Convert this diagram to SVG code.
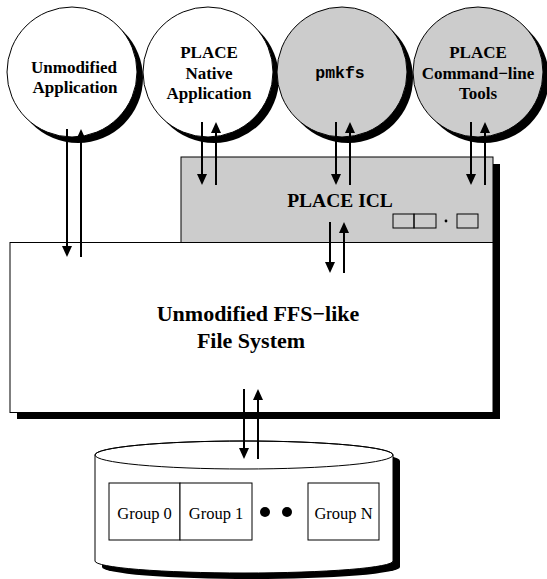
<svg xmlns="http://www.w3.org/2000/svg" width="547" height="579" viewBox="0 0 547 579">
<style>
.bg{fill:#ffffff}
.node{stroke:#000;stroke-width:1}
.white{fill:#ffffff}
.gray{fill:#cccccc}
.shadow{fill:#000}
.lbl{font-family:"Liberation Serif","Times New Roman",serif;font-weight:bold;font-size:17px;text-anchor:middle;fill:#000}
.mono{font-family:"Liberation Mono","Courier New",monospace;font-weight:bold;font-size:16.5px;text-anchor:middle;fill:#000}
.big{font-family:"Liberation Serif","Times New Roman",serif;font-weight:bold;font-size:22px;text-anchor:middle;fill:#000}
.icl{font-family:"Liberation Serif","Times New Roman",serif;font-weight:bold;font-size:19.5px;text-anchor:middle;fill:#000}
.grp{font-family:"Liberation Serif","Times New Roman",serif;font-size:16.5px;text-anchor:middle;fill:#000}
.conn line{stroke:#000;stroke-width:2}
</style>
<defs>
<marker id="ah" markerUnits="userSpaceOnUse" viewBox="0 0 11 10" markerWidth="11" markerHeight="10" refX="1" refY="5" orient="auto">
<path d="M0,0 L11,5 L0,10 z" fill="#000"/>
</marker>
</defs>
<rect class="bg" x="0" y="0" width="547" height="579"/>

<g id="unmodified-app">
<circle class="shadow" cx="78" cy="78" r="65"/>
<circle class="node white" cx="72" cy="72" r="65"/>
<text class="lbl" x="74" y="73">Unmodified</text>
<text class="lbl" x="75" y="93">Application</text>
</g>
<g id="native-app">
<circle class="shadow" cx="214" cy="78" r="65"/>
<circle class="node white" cx="208" cy="72" r="65"/>
<text class="lbl" x="209" y="58">PLACE</text>
<text class="lbl" x="209" y="79">Native</text>
<text class="lbl" x="209" y="99">Application</text>
</g>
<g id="pmkfs">
<circle class="shadow" cx="348" cy="78" r="65"/>
<circle class="node gray" cx="342" cy="72" r="65"/>
<text class="mono" x="340" y="78">pmkfs</text>
</g>
<g id="cmdline-tools">
<circle class="shadow" cx="484" cy="78" r="65"/>
<circle class="node gray" cx="478" cy="72" r="65"/>
<text class="lbl" x="478" y="58">PLACE</text>
<text class="lbl" x="478" y="79">Command−line</text>
<text class="lbl" x="478" y="99">Tools</text>
</g>

<g id="place-icl">
<rect class="shadow" x="188" y="164" width="312" height="86"/>
<rect class="node gray" x="181" y="157" width="312" height="86"/>
<text class="icl" x="340" y="207">PLACE ICL</text>
<rect class="node" fill="none" x="393" y="214" width="21" height="14"/>
<rect class="node" fill="none" x="414" y="214" width="22" height="14"/>
<circle cx="446" cy="221" r="1.4" fill="#000"/>
<rect class="node" fill="none" x="457" y="214" width="21" height="14"/>
</g>

<g id="ffs">
<rect class="shadow" x="17" y="249" width="483" height="170"/>
<rect class="node white" x="10" y="242.5" width="483" height="170"/>
<text class="big" x="258" y="321">Unmodified FFS−like</text>
<text class="big" x="251" y="348">File System</text>
</g>

<g id="disk">
<path class="shadow" d="M102,461 A149,14 0 0 1 400,461 L400,567 A149,12 0 0 1 102,567 Z"/>
<path class="node white" d="M95,455 A149,14 0 0 1 393,455 L393,561 A149,12 0 0 1 95,561 Z"/>
<ellipse class="node" fill="none" cx="244" cy="455" rx="149" ry="14"/>
<rect class="node white" x="109" y="483" width="71" height="57"/>
<text class="grp" x="144.5" y="519">Group 0</text>
<rect class="node white" x="180" y="483" width="72" height="57"/>
<text class="grp" x="216" y="519">Group 1</text>
<circle cx="265" cy="512" r="5" fill="#000"/>
<circle cx="287" cy="512" r="5" fill="#000"/>
<rect class="node white" x="308" y="483" width="71" height="57"/>
<text class="grp" x="343.5" y="519">Group N</text>
</g>

<g id="connectors" class="conn">
<line x1="67" y1="129" x2="67" y2="247" marker-end="url(#ah)"/>
<line x1="81" y1="257" x2="81" y2="139" marker-end="url(#ah)"/>
<line x1="202" y1="122" x2="202" y2="175" marker-end="url(#ah)"/>
<line x1="216" y1="185" x2="216" y2="132" marker-end="url(#ah)"/>
<line x1="336" y1="122" x2="336" y2="175" marker-end="url(#ah)"/>
<line x1="350" y1="185" x2="350" y2="132" marker-end="url(#ah)"/>
<line x1="471" y1="122" x2="471" y2="175" marker-end="url(#ah)"/>
<line x1="485" y1="185" x2="485" y2="132" marker-end="url(#ah)"/>
<line x1="330" y1="222" x2="330" y2="263" marker-end="url(#ah)"/>
<line x1="344" y1="273" x2="344" y2="232" marker-end="url(#ah)"/>
<line x1="244" y1="389" x2="244" y2="449" marker-end="url(#ah)"/>
<line x1="258" y1="459" x2="258" y2="399" marker-end="url(#ah)"/>
</g>
</svg>
